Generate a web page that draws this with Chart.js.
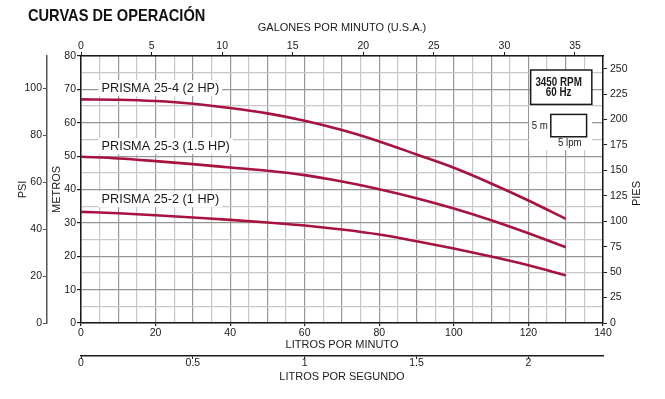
<!DOCTYPE html>
<html lang="es">
<head>
<meta charset="utf-8">
<title>Curvas de operación</title>
<script src="https://cdn.jsdelivr.net/npm/chart.js@4.4.1/dist/chart.umd.min.js"></script>
<style>
    html, body { margin: 0; padding: 0; background: #fff; }
    #wrap { width: 665px; height: 399px; }
</style>
</head>
<body>
<div id="wrap"><canvas id="curvas" width="665" height="399"></canvas></div>
<script>
/* ── Data ─────────────────────────────────────────────── */
var flowLpm   = [0, 10, 20, 30, 40, 50, 60, 70, 80, 90, 100, 110, 120, 130];
var prisma254 = [67.0, 66.9, 66.5, 65.7, 64.4, 62.8, 60.6, 57.8, 54.4, 50.5, 46.5, 41.8, 36.7, 31.2];
var prisma253 = [49.8, 49.3, 48.5, 47.6, 46.6, 45.6, 44.3, 42.4, 40.1, 37.4, 34.3, 30.8, 26.9, 22.7];
var prisma252 = [33.3, 32.9, 32.3, 31.6, 30.9, 30.1, 29.2, 28.0, 26.5, 24.5, 22.3, 19.9, 17.3, 14.3];
var curveNames = ['PRISMA 25-4 (2 HP)', 'PRISMA 25-3 (1.5 HP)', 'PRISMA 25-2 (1 HP)'];

var lpmLabels    = [0, 20, 40, 60, 80, 100, 120, 140];
var metrosLabels = [0, 10, 20, 30, 40, 50, 60, 70, 80];
var gpmTicks     = [0, 5, 10, 15, 20, 25, 30, 35];
var lpsTicks     = [0, 0.5, 1, 1.5, 2];
var psiTicks     = [0, 20, 40, 60, 80, 100];
var piesTicks    = [0, 25, 50, 75, 100, 125, 150, 175, 200, 225, 250];

// unit conversions for the secondary axes
var LPM_PER_GPM = 3.78541, M_PER_PSI = 0.70307, M_PER_FT = 0.3048;

/* ── Styles ───────────────────────────────────────────── */
var SANS = "'Liberation Sans', Arial, sans-serif";
var INK = '#1a1a1a';
var CURVE = '#a8123f';
var GRID_DARK = '#969696', GRID_LIGHT = '#c8c8c8';
var tickFont = { family: SANS, size: 10.5, lineHeight: 1 };
var titleFont = { family: SANS, size: 11 };

// label anchors in chart units (lpm, m)
var nameAt = [[5.5, 70.4], [5.5, 53.0], [5.5, 37.1]];

function fixHeight(h) { return function (s) { s.height = h; }; }
function fixWidth(w) { return function (s) { s.width = w; }; }
function useTicks(list) {
    return function (s) { s.ticks = list.map(function (v) { return { value: v }; }); };
}
function gridShade(ctx) {
    return ctx.tick && ctx.tick.value % 10 === 0 ? GRID_DARK : GRID_LIGHT;
}
function tickMark(labels) {
    return function (ctx) {
        return ctx.tick && labels.indexOf(ctx.tick.value) >= 0 ? INK : 'rgba(0,0,0,0)';
    };
}
function pairs(ys) {
    return flowLpm.map(function (x, i) { return { x: x, y: ys[i] }; });
}
function curve(ys) {
    return {
        data: pairs(ys),
        borderColor: CURVE,
        borderWidth: 2.6,
        pointRadius: 0,
        fill: false,
        cubicInterpolationMode: 'monotone',
        xAxisID: 'x',
        yAxisID: 'y'
    };
}
// condensed-looking text (no narrow face installed)
function squeezeText(ctx, text, px, py, k) {
    ctx.save();
    ctx.translate(px, py);
    ctx.scale(k, 1);
    ctx.fillText(text, 0, 0);
    ctx.restore();
}

/* ── Annotations (names, speed box, scale box, titles) ─ */
var notes = {
    id: 'notes',
    afterDatasetsDraw: function (chart) {
        var ctx = chart.ctx, x = chart.scales.x, y = chart.scales.y;
        ctx.save();

        // curve names on white backing
        ctx.font = '12.7px ' + SANS;
        ctx.textBaseline = 'middle';
        ctx.textAlign = 'left';
        curveNames.forEach(function (name, i) {
            var px = x.getPixelForValue(nameAt[i][0]);
            var py = y.getPixelForValue(nameAt[i][1]);
            var w = ctx.measureText(name).width;
            ctx.fillStyle = '#fff';
            ctx.fillRect(px - 3, py - 8, w + 6, 16);
            ctx.fillStyle = INK;
            ctx.fillText(name, px, py);
        });

        // speed box
        var bx1 = x.getPixelForValue(120.6), bx2 = x.getPixelForValue(137.0);
        var by1 = y.getPixelForValue(75.8), by2 = y.getPixelForValue(65.5);
        ctx.fillStyle = '#fff';
        ctx.fillRect(bx1, by1, bx2 - bx1, by2 - by1);
        ctx.strokeStyle = INK;
        ctx.lineWidth = 1.5;
        ctx.strokeRect(bx1, by1, bx2 - bx1, by2 - by1);
        ctx.fillStyle = INK;
        ctx.textAlign = 'center';
        ctx.font = 'bold 12px ' + SANS;
        squeezeText(ctx, '3450 RPM', x.getPixelForValue(128.1), y.getPixelForValue(72.0), 0.82);
        squeezeText(ctx, '60 Hz', x.getPixelForValue(128.1), y.getPixelForValue(69.1), 0.82);

        // grid scale legend
        var wx1 = x.getPixelForValue(120.2), wx2 = x.getPixelForValue(137.0);
        var wy1 = y.getPixelForValue(65.0), wy2 = y.getPixelForValue(51.8);
        ctx.fillStyle = '#fff';
        ctx.fillRect(wx1, wy1, wx2 - wx1, wy2 - wy1);
        var sx1 = x.getPixelForValue(126.0), sx2 = x.getPixelForValue(135.6);
        var sy1 = y.getPixelForValue(62.5), sy2 = y.getPixelForValue(55.8);
        ctx.strokeRect(sx1, sy1, sx2 - sx1, sy2 - sy1);
        ctx.fillStyle = INK;
        ctx.font = '11.5px ' + SANS;
        ctx.textAlign = 'right';
        squeezeText(ctx, '5 m', x.getPixelForValue(125.2), y.getPixelForValue(59.0), 0.84);
        ctx.textAlign = 'center';
        squeezeText(ctx, '5 lpm', x.getPixelForValue(131.1), y.getPixelForValue(54.0), 0.84);
        ctx.restore();
    },
    afterDraw: function (chart) {
        var ctx = chart.ctx, area = chart.chartArea;
        ctx.save();
        ctx.fillStyle = '#111';
        ctx.textBaseline = 'middle';
        ctx.textAlign = 'left';
        ctx.font = 'bold 17px ' + SANS;
        squeezeText(ctx, 'CURVAS DE OPERACIÓN', 28, 16.5, 0.86);

        // right-hand axis title reads bottom to top
        ctx.translate(637, (area.top + area.bottom) / 2 + 4);
        ctx.rotate(-Math.PI / 2);
        ctx.textAlign = 'center';
        ctx.fillStyle = INK;
        ctx.font = '11px ' + SANS;
        ctx.fillText('PIES', 0, 0);
        ctx.restore();
    }
};

/* ── Chart ────────────────────────────────────────────── */
new Chart(document.getElementById('curvas'), {
    type: 'line',
    data: {
        datasets: [curve(prisma254), curve(prisma253), curve(prisma252)]
    },
    plugins: [notes],
    options: {
        responsive: false,
        animation: false,
        layout: { padding: { top: 18, left: 0, right: 0, bottom: 0 } },
        plugins: { legend: { display: false }, tooltip: { enabled: false } },
        scales: {
            x: {
                type: 'linear', position: 'bottom', min: 0, max: 140,
                afterFit: fixHeight(33),
                ticks: {
                    stepSize: 5, autoSkip: false, maxRotation: 0, color: INK, font: tickFont, padding: 2,
                    callback: function (v) { return lpmLabels.indexOf(v) >= 0 ? String(v) : ''; }
                },
                grid: { color: gridShade, lineWidth: 1.2, tickLength: 3, tickColor: tickMark(lpmLabels) },
                border: { color: INK, width: 1.5 },
                title: { display: true, text: 'LITROS POR MINUTO', color: INK, font: titleFont, padding: { top: 0, bottom: 4.5 } }
            },
            xs: {
                type: 'linear', position: 'bottom', min: 0, max: 140 / 60,
                afterBuildTicks: useTicks(lpsTicks),
                afterFit: fixHeight(43),
                ticks: {
                    autoSkip: false, maxRotation: 0, color: INK, font: tickFont, padding: -1,
                    callback: function (v) { return String(v); }
                },
                grid: { drawOnChartArea: false, tickLength: 3, tickColor: INK },
                border: { color: INK, width: 1.5 },
                title: { display: true, text: 'LITROS POR SEGUNDO', color: INK, font: titleFont, padding: { top: 0, bottom: 15.5 } }
            },
            y: {
                type: 'linear', position: 'left', min: 0, max: 80,
                afterFit: fixWidth(34),
                ticks: {
                    stepSize: 5, autoSkip: false, color: INK, font: tickFont, padding: 1,
                    callback: function (v) { return metrosLabels.indexOf(v) >= 0 ? String(v) : ''; }
                },
                grid: { color: gridShade, lineWidth: 1.2, tickLength: 4, tickColor: tickMark(metrosLabels) },
                border: { color: INK, width: 1.5 },
                title: { display: true, text: 'METROS', color: INK, font: titleFont, padding: { top: 3, bottom: 0 } }
            },
            psi: {
                type: 'linear', position: 'left', min: 0, max: 80 / M_PER_PSI,
                afterBuildTicks: useTicks(psiTicks),
                afterFit: fixWidth(47),
                ticks: { autoSkip: false, color: INK, font: tickFont, padding: 1 },
                grid: { drawOnChartArea: false, tickLength: 4, tickColor: '#555' },
                border: { color: '#555', width: 1.5 },
                title: { display: true, text: 'PSI', color: INK, font: titleFont, padding: { top: 16.5, bottom: 0 } }
            },
            pies: {
                type: 'linear', position: 'right', min: 0, max: 80 / M_PER_FT,
                afterBuildTicks: useTicks(piesTicks),
                afterFit: fixWidth(62),
                ticks: { autoSkip: false, color: INK, font: tickFont, padding: 3 },
                grid: { drawOnChartArea: false, tickLength: 4, tickColor: INK },
                border: { color: INK, width: 1.5 }
            },
            gpm: {
                type: 'linear', position: 'top', min: 0, max: 140 / LPM_PER_GPM,
                afterBuildTicks: useTicks(gpmTicks),
                afterFit: fixHeight(38),
                ticks: { autoSkip: false, maxRotation: 0, color: INK, font: tickFont, padding: 1 },
                grid: { drawOnChartArea: false, tickLength: 4, tickColor: INK },
                border: { color: INK, width: 1.5 },
                title: { display: true, text: 'GALONES POR MINUTO (U.S.A.)', color: INK, font: titleFont, padding: { top: 3.5, bottom: 0 } }
            }
        }
    }
});
</script>
</body>
</html>
